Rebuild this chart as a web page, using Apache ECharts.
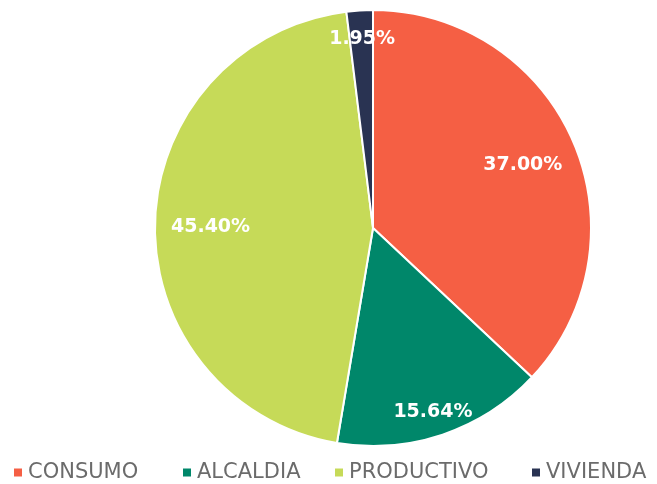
<!DOCTYPE html>
<html>
<head>
<meta charset="utf-8">
<script src="https://cdn.jsdelivr.net/npm/echarts@6/dist/echarts.min.js"></script>
<style>html,body{margin:0;padding:0;background:#fff}#c{width:657px;height:484px}</style>
</head>
<body>
<div id="c"></div>
<script>
const categories = ["CONSUMO", "ALCALDIA", "PRODUCTIVO", "VIVIENDA"];
const values = [37.00, 15.64, 45.40, 1.95];
const labels = ["37.00%", "15.64%", "45.40%", "1.95%"];
const colors = ["#F55F44", "#00876A", "#C6DA58", "#293352"];
// which labels sit farther out (Excel best-fit placement)
const outerLabel = [false, true, false, true];

const chart = echarts.init(document.getElementById('c'), null, {renderer: 'canvas'});
const center = [373, 228];
const R = 218;
const labelStyle = {color: '#fff', fontFamily: 'DejaVu Sans', fontWeight: 'bold', fontSize: 19};
const labelOffsets = [[-3, 3], [-2, 0], [4, 3], [1, 5]];

function mainData() {
  return categories.map((n, i) => ({name: n, value: values[i], itemStyle: {color: colors[i]}}));
}
function overlayData(wantOuter) {
  return categories.map((n, i) => ({
    name: n, value: values[i],
    label: {show: outerLabel[i] === wantOuter, offset: labelOffsets[i]}
  }));
}
const overlayBase = {
  type: 'pie', center: center, startAngle: 90, clockwise: true,
  silent: true, animation: false, legendHoverLink: false,
  itemStyle: {color: 'rgba(0,0,0,0)', borderWidth: 0},
  emphasis: {disabled: true},
  labelLine: {show: false},
  tooltip: {show: false}
};
const legendLefts = [12, 181, 333, 530];
const legends = categories.map((n, i) => ({
  data: [n], left: legendLefts[i], top: 462, orient: 'horizontal',
  icon: 'rect', itemWidth: 10, itemHeight: 10, itemGap: 0,
  textStyle: {fontFamily: 'DejaVu Sans', fontSize: 21, color: '#6b6b6b', padding: [0, 0, 0, 0]},
  padding: 0, selectedMode: false
}));

chart.setOption({
  animation: false,
  legend: legends,
  series: [
    {
      type: 'pie', center: center, radius: [0, R], startAngle: 90, clockwise: true,
      data: mainData(),
      itemStyle: {borderColor: '#ffffff', borderWidth: 2},
      label: {show: false}, labelLine: {show: false},
      emphasis: {disabled: true}
    },
    Object.assign({}, overlayBase, {
      radius: [R * 0.5, R],
      data: overlayData(false),
      label: Object.assign({position: 'inside', formatter: p => labels[p.dataIndex]}, labelStyle)
    }),
    Object.assign({}, overlayBase, {
      radius: [R * 0.752, R],
      data: overlayData(true),
      label: Object.assign({position: 'inside', formatter: p => labels[p.dataIndex]}, labelStyle)
    })
  ]
});
</script>
</body>
</html>
